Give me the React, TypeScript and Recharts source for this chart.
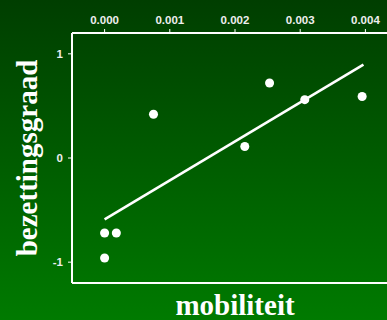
import { ReferenceLine, Scatter, ScatterChart, XAxis, YAxis, ZAxis } from "recharts";

// mobiliteit (x) vs. gestandaardiseerde bezettingsgraad (y)
const mobiliteit = [0.0, 0.00018, 0.0, 0.00075, 0.00215, 0.00253, 0.00307, 0.00395];
const bezetting = [-0.72, -0.72, -0.96, 0.42, 0.11, 0.72, 0.56, 0.59];

// regressielijn: begin- en eindpunt
const fitX = [0.0, 0.00397];
const fitY = [-0.59, 0.897];

const xTicks = [0, 0.001, 0.002, 0.003, 0.004];
const yTicks = [-1, 0, 1];

const points = mobiliteit.map((x, i) => ({ x, y: bezetting[i] }));
const fitLine = fitX.map((x, i) => ({ x, y: fitY[i] }));

const tickStyle = {
  fontSize: 11.5,
  fontWeight: 700,
  fontFamily: "'Liberation Sans', Arial, sans-serif",
  fill: "#eeeeee",
};

const titleFont = "'Liberation Serif', 'Times New Roman', serif";

interface LabelBox {
  viewBox?: { x: number; y: number; width: number; height: number };
}

function YTitle({ viewBox }: LabelBox) {
  if (!viewBox) return null;
  const x = viewBox.x + 37;
  const y = viewBox.y + viewBox.height / 2;
  return (
    <text
      x={x}
      y={y}
      transform={`rotate(-90, ${x}, ${y})`}
      textAnchor="middle"
      fill="#ffffff"
      fontSize={29}
      fontWeight={700}
      fontFamily={titleFont}
    >
      bezettingsgraad
    </text>
  );
}

function XTitle({ viewBox }: LabelBox) {
  if (!viewBox) return null;
  return (
    <text
      x={viewBox.x + viewBox.width / 2}
      y={viewBox.y + 32}
      textAnchor="middle"
      fill="#ffffff"
      fontSize={29}
      fontWeight={700}
      fontFamily={titleFont}
    >
      mobiliteit
    </text>
  );
}

export default function App() {
  return (
    <div
      style={{
        position: "absolute",
        left: 0,
        top: 0,
        width: 387,
        height: 320,
        overflow: "hidden",
        background: "linear-gradient(to bottom, #003e00, #007a00)",
      }}
    >
      <ScatterChart width={398} height={320} margin={{ top: 0, right: 0, bottom: 37, left: 0 }}>
        <XAxis
          type="number"
          dataKey="x"
          orientation="top"
          height={33}
          domain={[-0.0005, 0.0045]}
          ticks={xTicks}
          tickFormatter={(v: number) => v.toFixed(3)}
          tick={tickStyle}
          tickSize={4}
          tickMargin={5}
          axisLine={{ stroke: "#ffffff", strokeWidth: 2 }}
          tickLine={{ stroke: "#ffffff" }}
          allowDataOverflow
        />
        <YAxis
          type="number"
          dataKey="y"
          width={72}
          domain={[-1.2, 1.2]}
          ticks={yTicks}
          tick={tickStyle}
          tickSize={4}
          tickMargin={5}
          axisLine={{ stroke: "#ffffff", strokeWidth: 2 }}
          tickLine={{ stroke: "#ffffff" }}
          label={<YTitle />}
          allowDataOverflow
        />
        <ZAxis range={[40, 40]} />
        <ReferenceLine y={-1.2} stroke="#ffffff" strokeWidth={2} label={<XTitle />} />
        <Scatter
          data={fitLine}
          line={{ stroke: "#ffffff", strokeWidth: 2.6 }}
          shape={() => <g />}
          isAnimationActive={false}
        />
        <Scatter data={points} fill="#ffffff" shape="circle" isAnimationActive={false} />
      </ScatterChart>
    </div>
  );
}
